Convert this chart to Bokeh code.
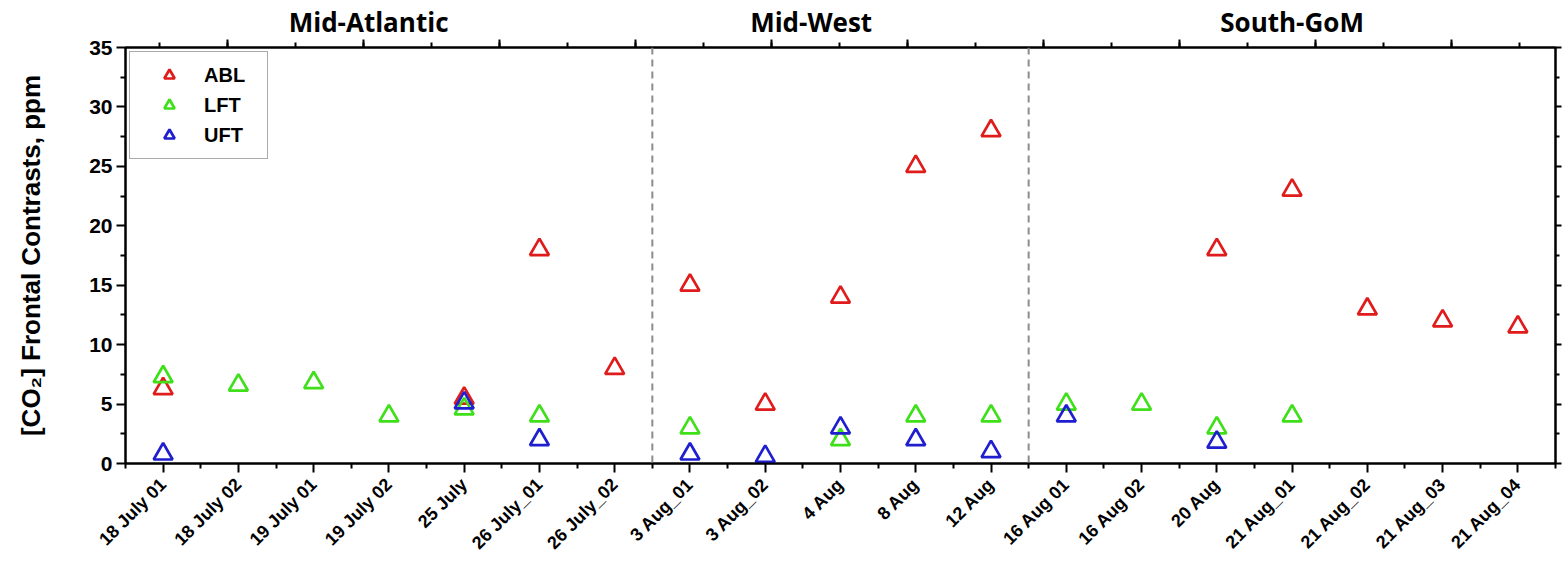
import math
from bokeh.plotting import figure
from bokeh.models import (Range1d, LinearAxis, FixedTicker, Span,
                          ColumnDataSource, Legend, LegendItem)
from bokeh.embed import file_html
from bokeh.resources import INLINE

# Flight dates (x categories)
dates = ["18 July 01", "18 July 02", "19 July 01", "19 July 02", "25 July",
         "26 July_01", "26 July_02", "3 Aug_01", "3 Aug_02", "4 Aug", "8 Aug",
         "12 Aug", "16 Aug 01", "16 Aug 02", "20 Aug", "21 Aug_01", "21 Aug_02",
         "21 Aug_03", "21 Aug_04"]

# Frontal CO2 contrasts (ppm) per layer; None = no value
abl = [6.3, None, None, None, 5.5, 18.0, 8.0, 15.0, 5.0, 14.0, 25.0, 28.0,
       None, None, 18.0, 23.0, 13.0, 12.0, 11.5]
lft = [7.3, 6.6, 6.8, 4.0, 4.6, 4.0, None, 3.0, None, 2.0, 4.0, 4.0,
       5.0, 5.0, 3.0, 4.0, None, None, None]
uft = [0.8, None, None, None, 5.1, 2.0, None, 0.8, 0.6, 3.0, 2.0, 1.0,
       4.0, None, 1.8, None, None, None, None]

regions = ["Mid-Atlantic", "Mid-West", "South-GoM"]
region_centers = [2.73, 8.61, 15.0]
region_breaks = [6.5, 11.5]

y_ticks = [0, 5, 10, 15, 20, 25, 30, 35]

FONT = "Liberation Sans"

p = figure(width=1564, height=577, output_backend="svg", toolbar_location=None,
           x_range=Range1d(-0.5, len(dates) - 0.5), y_range=Range1d(0, 35),
           x_axis_type=None, y_axis_type=None,
           min_border_left=125, min_border_right=9,
           min_border_top=47, min_border_bottom=114)
p.grid.visible = False
p.outline_line_color = "black"
p.outline_line_width = 2
p.background_fill_color = "white"
p.border_fill_color = "white"


def style_axis(ax):
    ax.axis_line_width = 2
    ax.axis_line_color = "black"
    ax.major_tick_line_width = 2
    ax.minor_tick_line_width = 2
    ax.major_tick_in = 0
    ax.minor_tick_in = 0
    ax.major_tick_out = 9
    ax.minor_tick_out = 5
    ax.major_label_text_font = FONT
    ax.major_label_text_font_style = "bold"
    ax.major_label_text_color = "black"


# bottom axis with date labels
bottom = LinearAxis(ticker=FixedTicker(ticks=list(range(len(dates))),
                                       minor_ticks=[i + 0.5 for i in range(-1, len(dates))]))
bottom.major_label_overrides = {i: d for i, d in enumerate(dates)}
style_axis(bottom)
bottom.major_label_orientation = math.pi / 4
bottom.major_label_text_font_size = "18px"
bottom.major_label_standoff = 9
p.add_layout(bottom, "below")

# left axis
left = LinearAxis(ticker=FixedTicker(ticks=y_ticks,
                                     minor_ticks=[t + 2.5 for t in y_ticks[:-1]]))
style_axis(left)
left.major_label_text_font_size = "21px"
left.major_label_standoff = 4
left.axis_label = "[CO\u2082] Frontal Contrasts, ppm"
left.axis_label_text_font = FONT
left.axis_label_text_font_style = "bold"
left.axis_label_text_font_size = "26px"
left.axis_label_text_color = "black"
left.axis_label_standoff = 40
p.add_layout(left, "left")

# right axis, ticks only
right = LinearAxis(ticker=FixedTicker(ticks=y_ticks,
                                      minor_ticks=[t + 2.5 for t in y_ticks[:-1]]))
style_axis(right)
right.major_tick_out = 6
right.minor_tick_out = 4
right.major_label_text_font_size = "0px"
right.major_label_text_alpha = 0
right.major_label_standoff = 0
p.add_layout(right, "right")

# top axis, ticks only, on its own pixel-like scale
p.extra_x_ranges = {"top": Range1d(0, 1430)}
top_major = [102 + 136 * k for k in range(11) if 102 + 136 * k <= 1430]
top_minor = [34 + 68 * k for k in range(22) if 34 + 68 * k <= 1430]
top = LinearAxis(x_range_name="top",
                 ticker=FixedTicker(ticks=top_major, minor_ticks=top_minor))
style_axis(top)
top.major_tick_out = 8
top.minor_tick_out = 5
top.major_label_text_font_size = "0px"
top.major_label_text_alpha = 0
top.major_label_standoff = 0
p.add_layout(top, "above")

# region names, carried by a bare axis above the tick axis
names_axis = LinearAxis(ticker=FixedTicker(ticks=region_centers, minor_ticks=[]))
names_axis.major_label_overrides = {c: n for c, n in zip(region_centers, regions)}
names_axis.axis_line_alpha = 0
names_axis.major_tick_line_alpha = 0
names_axis.major_tick_in = 0
names_axis.major_tick_out = 0
names_axis.minor_tick_out = 0
names_axis.major_label_standoff = 0
names_axis.major_label_text_font = "Open Sans"
names_axis.major_label_text_font_style = "bold"
names_axis.major_label_text_font_size = "26px"
names_axis.major_label_text_color = "black"
p.add_layout(names_axis, "above")

# region separators
for xb in region_breaks:
    p.add_layout(Span(location=xb, dimension="height", line_color="#8c8c8c",
                      line_width=2, line_dash="7 5"))


def series(vals):
    xs = [i for i, v in enumerate(vals) if v is not None]
    ys = [v for v in vals if v is not None]
    return ColumnDataSource(dict(x=xs, y=ys))


colors = {"ABL": "#e01b1b", "LFT": "#3fe01a", "UFT": "#1f1fd0"}
items = []
for name, vals in [("ABL", abl), ("LFT", lft), ("UFT", uft)]:
    r = p.scatter("x", "y", source=series(vals), marker="triangle", size=19,
                  fill_alpha=0, line_color=colors[name], line_width=2.7)
    items.append(LegendItem(label=name, renderers=[r]))

legend = Legend(items=items, location="top_left", margin=4, padding=10,
                spacing=4, glyph_width=58, glyph_height=26,
                label_text_font=FONT, label_text_font_style="bold",
                label_text_font_size="20px", label_text_color="black",
                label_standoff=6, label_width=53,
                border_line_color="#555555", border_line_width=1.5,
                background_fill_alpha=1)
p.add_layout(legend, "center")

open("out.html", "w").write(file_html(p, INLINE))
